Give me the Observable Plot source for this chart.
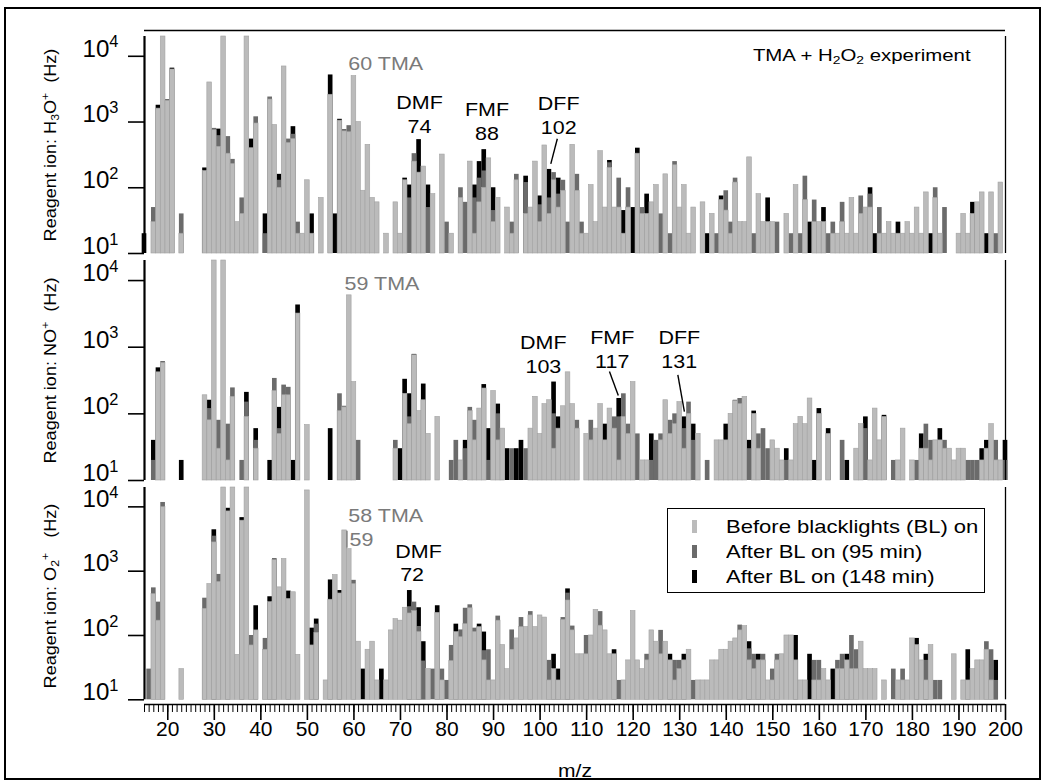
<!DOCTYPE html>
<html>
<head>
<meta charset="utf-8">
<script src="https://cdn.jsdelivr.net/npm/d3@7"></script>
<script src="https://cdn.jsdelivr.net/npm/@observablehq/plot@0.6"></script>
<style>
  html, body { margin: 0; padding: 0; background: #fff; }
  #wrap { position: relative; width: 1045px; height: 781px; font-family: "Liberation Sans", Arial, sans-serif; }
  #border { position: absolute; left: 4px; top: 7px; width: 1037px; height: 773px; border: 2px solid #000; box-sizing: border-box; }
  .panel { position: absolute; left: 0; }
  #legend { position: absolute; left: 667px; top: 508px; width: 318px; height: 85px; border: 1.5px solid #000; box-sizing: border-box; background: #fff; padding-top: 5px; }
  #legend .row { display: flex; align-items: center; height: 25px; font-size: 19px; line-height: 25px; color: #000; white-space: nowrap; }
  #legend .sw { width: 5px; height: 13px; margin-left: 24px; margin-right: 29px; flex: none; }
  #legend .tx { display: inline-block; transform: scaleX(1.16); transform-origin: 0 50%; }
</style>
</head>
<body>
<div id="wrap"><div id="border"></div></div>
<script>
// ---------------- data (m/z 15 ... 200, one value per integer m/z) ----------------
const mzMin = 15, mzMax = 200;
const xTicks = [20, 30, 40, 50, 60, 70, 80, 90, 100, 110, 120, 130, 140, 150, 160, 170, 180, 190, 200];
const yTicks = [10, 100, 1000, 10000];
const seriesLabels = ["Before blacklights (BL) on", "After BL on (95 min)", "After BL on (148 min)"];

// Reagent ion H3O+
const h3oBefore = [
  0,0,30,1600,20000,2100,6300,0,20,0,
  0,0,0,180,4000,750,420,20000,330,230,
  30,40,20000,400,950,0,0,2200,900,100,
  7000,480,550,20,20,130,20,0,70,0,
  2600,0,1050,720,700,5000,1000,90,450,70,
  60,0,20,0,60,20,130,0,250,170,
  210,0,80,0,320,0,20,0,70,0,
  250,20,60,100,280,30,70,0,50,20,
  130,0,40,50,250,30,440,40,130,50,
  90,0,450,90,20,20,110,30,360,50,
  200,50,50,20,50,0,330,40,40,60,
  110,0,160,0,220,50,110,20,50,0,
  60,0,40,0,65,45,20,120,30,30,
  290,0,80,30,30,30,0,0,40,0,
  110,0,65,0,30,30,30,0,20,20,
  30,20,70,20,40,50,50,0,20,20,
  30,20,20,20,30,20,50,20,85,0,
  70,20,0,0,0,20,40,20,40,60,
  85,0,85,0,120,0];
const h3oAfter95 = [
  0,0,50,0,0,2200,0,0,40,0,
  0,0,0,0,0,800,620,0,600,270,
  0,70,0,0,1200,0,20,2400,0,130,
  0,550,650,30,0,0,0,0,0,0,
  0,0,0,770,880,0,0,0,0,0,
  0,0,0,0,0,0,0,70,330,0,
  0,50,0,0,0,30,0,0,100,60,
  0,70,140,180,0,45,0,0,0,30,
  160,0,120,0,0,55,0,70,170,80,
  130,30,0,160,30,0,0,0,0,0,
  240,0,140,0,100,0,0,50,0,0,
  0,40,0,20,250,0,0,0,0,0,
  0,0,0,20,0,90,30,140,0,0,
  0,20,0,0,0,0,30,0,0,20,
  0,20,150,0,65,0,0,20,30,0,
  60,0,0,0,75,0,80,0,50,0,
  0,0,0,0,0,0,0,0,0,0,
  100,0,50,0,0,0,0,0,0,0,
  0,0,0,20,0,0];
const h3oAfter148 = [
  20,0,0,1800,0,0,6600,0,0,0,
  0,0,0,200,0,0,780,0,0,0,
  0,0,0,550,0,0,40,0,0,160,
  0,0,850,0,0,0,40,0,0,0,
  5200,40,1100,0,0,0,0,0,0,0,
  0,0,0,0,0,0,140,110,0,540,
  0,110,0,0,0,0,0,0,0,0,
  0,110,250,380,0,100,0,0,0,0,
  0,0,150,0,0,75,0,190,0,140,
  0,0,0,0,0,0,0,0,0,0,
  260,0,0,45,0,50,400,0,80,0,
  0,0,0,0,0,0,0,0,0,0,
  0,20,0,0,75,0,0,0,0,0,
  0,0,0,0,70,0,0,0,0,0,
  0,0,0,30,0,0,50,0,0,0,
  0,0,0,0,0,0,100,20,0,0,
  0,0,30,0,0,0,0,0,0,20,
  0,0,0,0,0,0,0,0,60,0,
  0,20,0,0,0,0];

// Reagent ion NO+
const noBefore = [
  0,0,0,420,580,0,0,0,0,0,
  0,0,0,190,80,20000,30,20000,20,180,
  0,0,90,0,30,0,0,0,220,50,
  190,190,0,3200,0,68,0,0,0,0,
  0,0,110,125,6000,300,0,0,0,0,
  0,0,0,0,30,0,200,70,760,110,
  160,50,0,90,0,0,0,0,20,0,
  110,40,120,240,0,220,40,60,0,0,
  0,0,0,60,180,50,140,160,30,60,
  130,420,140,60,0,50,40,60,140,40,
  120,60,20,90,50,300,0,20,20,0,
  0,40,160,50,70,150,30,100,0,50,
  0,0,0,40,40,40,100,155,140,180,
  0,100,30,0,0,40,30,20,0,20,
  70,90,70,170,0,100,0,50,0,0,
  0,0,0,30,70,0,20,120,40,90,
  0,0,20,60,0,20,0,30,30,20,
  40,40,30,30,20,30,30,0,0,0,
  20,30,70,20,20,0];
const noAfter95 = [
  0,0,20,0,610,0,0,0,0,0,
  0,0,0,0,120,0,80,0,70,245,
  0,20,150,0,40,0,0,0,340,60,
  270,250,0,0,0,0,0,0,0,0,
  0,0,200,130,0,0,40,0,0,0,
  0,0,0,0,40,0,0,90,0,0,
  0,0,0,0,0,0,20,40,0,30,
  125,80,0,0,20,0,100,0,0,30,
  0,0,30,0,0,0,0,0,100,0,
  0,0,0,80,0,0,80,0,0,0,
  0,90,90,200,70,0,50,0,0,20,
  40,50,0,80,100,0,60,150,40,0,
  0,20,0,0,0,0,0,160,170,0,
  30,0,50,60,30,0,0,0,20,0,
  0,0,0,0,0,0,0,0,0,0,
  40,0,0,0,0,60,0,0,0,0,
  0,20,0,0,0,0,20,0,70,40,
  0,0,40,0,0,0,0,20,20,20,
  0,0,0,40,0,20];
const noAfter148 = [
  0,0,40,490,0,0,0,0,20,0,
  0,0,0,0,160,0,0,0,0,0,
  0,0,210,0,60,0,0,20,0,125,
  0,0,20,4300,0,0,0,0,0,0,
  60,0,0,0,0,0,0,0,0,0,
  0,0,0,0,0,30,330,200,780,0,
  280,0,0,0,0,0,0,0,0,40,
  0,0,0,275,60,0,140,0,30,0,
  30,40,0,0,0,0,0,0,300,90,
  0,0,0,0,0,0,0,0,0,70,
  0,0,170,0,0,0,0,0,0,50,
  0,0,0,0,0,0,90,0,70,0,
  0,0,0,0,0,70,0,0,0,0,
  40,110,0,0,0,0,0,0,30,0,
  0,0,0,0,20,120,0,60,0,0,
  0,20,0,0,0,90,0,0,0,95,
  0,0,0,0,0,0,0,50,0,0,
  0,60,0,0,0,0,0,0,0,0,
  30,40,0,0,0,40];

// Reagent ion O2+
const o2Before = [
  0,0,440,170,9900,0,0,0,30,0,
  0,0,0,260,630,2800,680,20000,8500,20000,
  50,6100,20000,70,120,0,60,330,1500,560,
  1550,370,470,50,0,18000,70,110,0,20,
  360,870,450,4300,2200,630,80,0,60,80,
  20,0,20,120,180,170,270,220,240,113,
  0,30,0,225,20,0,40,113,94,150,
  265,113,135,41,20,20,170,71,30,60,
  90,135,135,205,135,205,190,20,30,20,
  175,350,120,51,51,51,100,250,142,120,
  51,51,0,20,41,240,41,30,41,120,
  80,51,80,41,20,30,41,60,0,20,
  20,20,41,41,60,60,80,90,120,140,
  41,30,41,41,20,20,41,51,100,100,
  41,20,20,0,20,20,30,20,0,30,
  30,41,30,30,80,30,30,30,0,20,
  0,0,20,20,20,90,71,41,20,71,
  0,0,0,0,51,0,20,20,30,41,
  41,60,20,0,0,0];
const o2After95 = [
  0,30,550,330,11700,0,0,0,0,0,
  0,0,0,380,0,3500,890,0,0,0,
  0,0,0,100,0,0,90,0,0,0,
  0,0,0,0,0,0,0,150,0,0,
  0,0,0,0,0,720,0,0,0,0,
  0,0,0,0,0,0,0,280,330,138,
  40,0,30,0,30,20,70,0,122,265,
  300,130,0,58,60,0,200,0,0,122,
  0,190,0,235,0,0,0,41,0,0,
  190,455,140,0,0,100,0,0,235,0,
  0,0,20,0,0,0,0,0,51,0,
  0,120,0,0,41,41,0,0,20,0,
  0,0,0,0,0,0,0,0,145,0,
  62,51,0,51,0,30,51,0,0,0,
  0,0,0,0,41,41,0,0,0,41,
  51,0,100,60,0,0,0,0,0,0,
  0,30,0,30,0,0,0,0,41,0,
  20,20,0,0,0,0,0,0,0,0,
  0,80,60,20,0,0];
const o2After148 = [
  0,0,0,0,0,0,0,0,0,0,
  0,0,0,0,0,4400,0,0,9500,0,
  0,6800,0,0,290,0,0,400,1550,0,
  0,490,0,0,0,0,130,180,0,0,
  730,0,500,0,0,0,0,30,0,0,
  0,30,0,0,0,0,0,500,0,270,
  80,0,0,290,0,0,0,150,0,0,
  0,0,150,113,0,0,0,0,0,0,
  0,0,0,0,0,0,0,0,51,30,
  0,530,0,0,0,0,0,0,0,0,
  0,60,0,0,0,0,0,0,0,0,
  0,0,0,51,0,0,51,0,0,0,
  0,0,0,0,0,0,0,0,0,0,
  80,0,51,0,0,0,0,0,0,0,
  100,0,0,51,0,0,0,0,30,0,
  0,51,0,0,0,0,0,0,0,0,
  0,0,0,0,0,0,90,0,51,0,
  0,0,0,0,0,0,0,60,0,0,
  0,0,0,41,0,0];

// ---------------- annotations (text in data coordinates) ----------------
const notesH3O = [
  {label: "60 TMA", mz: 58.8, v: 6300, color: "#7a7a7a", anchor: "start"},
  {label: "DMF\n74", mz: 74.1, v: 1370, color: "#000", anchor: "middle"},
  {label: "FMF\n88", mz: 88.6, v: 1055, color: "#000", anchor: "middle"},
  {label: "DFF\n102", mz: 104.0, v: 1325, color: "#000", anchor: "middle"}
];
const pointersH3O = [{mz1: 103.7, v1: 556, mz2: 102.3, v2: 231, color: "#000"}];
const notesNO = [
  {label: "59 TMA", mz: 58.0, v: 7200, color: "#7a7a7a", anchor: "start"},
  {label: "DMF\n103", mz: 100.7, v: 803, color: "#000", anchor: "middle"},
  {label: "FMF\n117", mz: 115.5, v: 973, color: "#000", anchor: "middle"},
  {label: "DFF\n131", mz: 129.9, v: 973, color: "#000", anchor: "middle"}
];
const pointersNO = [
  {mz1: 114.9, v1: 431, mz2: 116.8, v2: 188, color: "#000"},
  {mz1: 129.6, v1: 385, mz2: 131.0, v2: 108, color: "#000"}
];
const notesO2 = [
  {label: "58 TMA", mz: 58.8, v: 5860, color: "#7a7a7a", anchor: "start"},
  {label: "59", mz: 59.05, v: 2530, color: "#7a7a7a", anchor: "start"},
  {label: "DMF", mz: 73.9, v: 1600, color: "#000", anchor: "middle"},
  {label: "72", mz: 72.5, v: 713, color: "#000", anchor: "middle"}
];
const pointersO2 = [{mz1: 58.5, v1: 4250, mz2: 58.5, v2: 2317, color: "#7a7a7a"}];
const titleNote = [{label: "TMA + H_2O_2 experiment", mz: 192.5, v: 8650}];

// ---------------- drawing ----------------
const mz = d3.range(mzMin, mzMax + 1);
const yMin = 10, yMax = 20000;
const colors = {before: "#bbbbbb", after95: "#6b6b6b", after148: "#000000"};
const FONT = "'Liberation Sans', Arial, sans-serif";
// horizontal stretch per font size (the reference type is wider than Arial)
const stretchBySize = {23: 1.05, 20: 1.05, 19: 1.13, 16: 1.13, 17: 1.2, 18: 1.17};

function panel(cfg) {
  const rows = mz.map((m, i) => ({mz: m, before: cfg.before[i], after95: cfg.after95[i], after148: cfg.after148[i]}));
  const bars = (key, extra = {}) => Plot.rectY(rows.filter(d => d[key] > yMin), {
    x1: d => d.mz - 0.5, x2: d => d.mz + 0.5, y1: yMin, y2: key, fill: colors[key], ...extra
  });
  const noteMark = anchor => Plot.text(cfg.notes.filter(d => d.anchor === anchor), {
    x: "mz", y: "v", text: "label", fill: "color", textAnchor: anchor, fontSize: 19, lineHeight: 1.27
  });
  const marks = [
    bars("after148"),
    bars("after95"),
    bars("before", {stroke: "#a2a2a2", strokeWidth: 0.6}),
    Plot.ruleX([mzMin], {y1: yMin, y2: yMax, strokeWidth: 2.2}),
    Plot.ruleX([mzMax], {y1: yMin, y2: yMax, strokeWidth: 1.3}),
    Plot.axisY(yTicks, {tickSize: 16, tickPadding: 10, fontSize: 23, strokeWidth: 1.6,
      tickFormat: d => "10^" + Math.round(Math.log10(d))}),
    Plot.text([cfg.ylabel], {text: d => d, frameAnchor: "left", textAnchor: "middle", lineAnchor: "middle",
      rotate: -90, dx: -89, fontSize: 16}),
    noteMark("start"),
    noteMark("middle"),
    Plot.link(cfg.pointers, {x1: "mz1", y1: "v1", x2: "mz2", y2: "v2", stroke: "color", strokeWidth: 1.4})
  ];
  if (cfg.title) {
    marks.push(Plot.ruleY([yMax], {dy: -6, strokeWidth: 1.5}));
    marks.push(Plot.text(cfg.title, {x: "mz", y: "v", text: "label", textAnchor: "end", fontSize: 17}));
  }
  if (cfg.xAxis) {
    marks.push(Plot.ruleY([yMin], {dy: 4.7, strokeWidth: 1.5}));
    marks.push(Plot.axisX(mz, {tickSize: 8, strokeWidth: 1, tickFormat: () => ""}));
    marks.push(Plot.axisX(xTicks, {tickSize: 16, tickPadding: 15, strokeWidth: 1.6, fontSize: 20}));
    marks.push(Plot.text(["m/z"], {text: d => d, frameAnchor: "bottom", lineAnchor: "middle", dy: 72, fontSize: 18}));
  }
  const svg = Plot.plot({
    width: 1045,
    height: cfg.height,
    marginLeft: 144, marginRight: 40, marginTop: cfg.mt, marginBottom: cfg.mb,
    x: {domain: [mzMin, mzMax], axis: cfg.xAxis ? undefined : null, label: null},
    y: {type: "log", domain: [yMin, yMax], range: cfg.yRange, label: null},
    style: {background: "transparent", overflow: "visible", fontFamily: FONT, color: "#000"},
    marks
  });
  svg.classList.add("panel");
  svg.style.top = cfg.top + "px";
  return svg;
}

const wrap = document.getElementById("wrap");
wrap.appendChild(panel({
  before: h3oBefore, after95: h3oAfter95, after148: h3oAfter148,
  top: 0, height: 258, mt: 36, mb: 5,
  ylabel: "Reagent ion: H_3O^+  (Hz)", notes: notesH3O, pointers: pointersH3O, title: titleNote
}));
wrap.appendChild(panel({
  before: noBefore, after95: noAfter95, after148: noAfter148,
  top: 258, height: 226, mt: 2, mb: 4,
  ylabel: "Reagent ion: NO^+  (Hz)", notes: notesNO, pointers: pointersNO
}));
wrap.appendChild(panel({
  before: o2Before, after95: o2After95, after148: o2After148,
  top: 484, height: 297, mt: 3, mb: 77, yRange: [215.3, 3],
  ylabel: "Reagent ion: O_2^+   (Hz)", notes: notesO2, pointers: pointersO2, xAxis: true
}));

// legend
const legend = document.createElement("div");
legend.id = "legend";
seriesLabels.forEach((label, i) => {
  const row = document.createElement("div");
  row.className = "row";
  const sw = document.createElement("span");
  sw.className = "sw";
  sw.style.background = [colors.before, colors.after95, colors.after148][i];
  const tx = document.createElement("span");
  tx.className = "tx";
  tx.textContent = label;
  row.appendChild(sw); row.appendChild(tx);
  legend.appendChild(row);
});
wrap.appendChild(legend);

// sub/superscript markup: "_x" subscript, "^x" superscript
function fontSizeOf(el) {
  let n = el;
  while (n && n.getAttribute) {
    const f = n.getAttribute("font-size");
    if (f) return parseFloat(f);
    n = n.parentNode;
  }
  return 10;
}
function richify(root) {
  const NS = "http://www.w3.org/2000/svg";
  root.querySelectorAll("text").forEach(t => {
    if (t.querySelector("tspan")) return;
    const s = t.textContent;
    if (!/[\^_]/.test(s)) return;
    const fs = fontSizeOf(t);
    t.textContent = "";
    let shift = 0;
    const re = /([\^_])(.)|([^\^_]+)/g;
    let m;
    while ((m = re.exec(s))) {
      const ts = document.createElementNS(NS, "tspan");
      let target = 0;
      if (m[1]) {
        ts.textContent = m[2];
        ts.setAttribute("font-size", (fs * 0.68).toFixed(2));
        target = m[1] === "^" ? -0.4 * fs : 0.22 * fs;
      } else {
        ts.textContent = m[3];
      }
      const d = target - shift;
      if (Math.abs(d) > 0.01) ts.setAttribute("dy", d.toFixed(2));
      shift = target;
      t.appendChild(ts);
    }
  });
}
function stretch(root) {
  root.querySelectorAll("svg.panel text").forEach(t => {
    const s = stretchBySize[fontSizeOf(t)] || 1;
    if (s === 1) return;
    const x = parseFloat(t.getAttribute("x")) || 0;
    const y = parseFloat(t.getAttribute("y")) || 0;
    t.removeAttribute("x"); t.removeAttribute("y");
    const tr = t.getAttribute("transform") || "";
    t.setAttribute("transform", `${tr} translate(${x},${y}) scale(${s},1)`.trim());
  });
}
richify(wrap);
stretch(wrap);
</script>
</body>
</html>
